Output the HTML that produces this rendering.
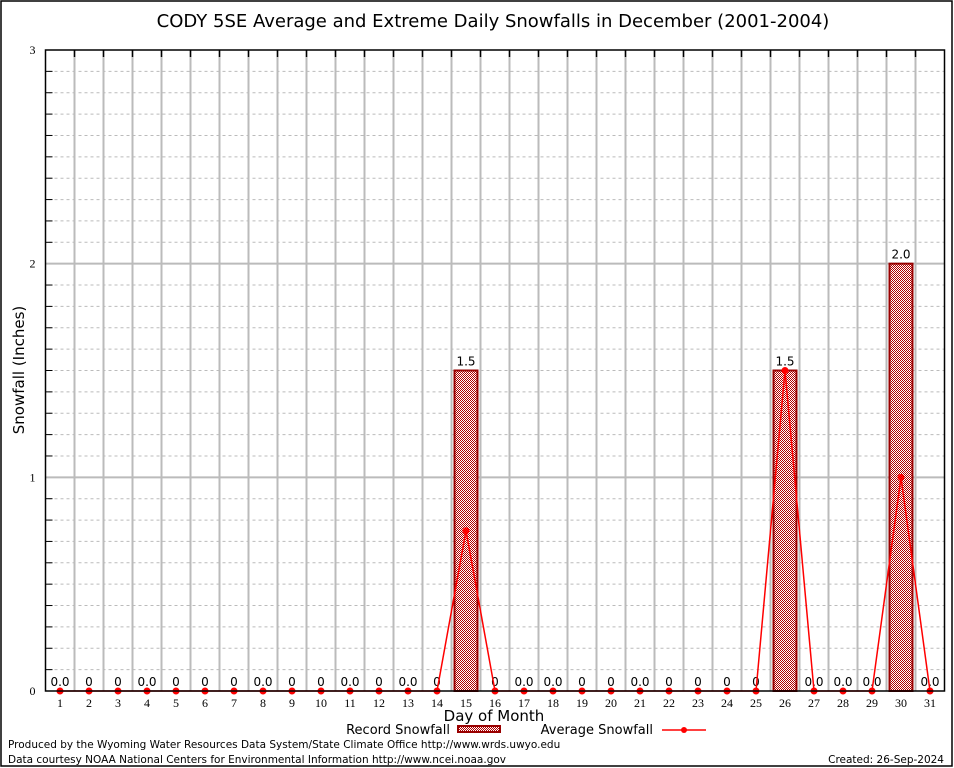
<!DOCTYPE html>
<html><head><meta charset="utf-8"><style>
body{margin:0;background:#fff;}
svg{display:block;font-family:"DejaVu Sans","Liberation Sans",sans-serif;}
</style></head><body>
<svg width="954" height="768">
<defs><pattern id="hatch" width="2" height="2" patternUnits="userSpaceOnUse"><rect width="2" height="2" fill="#fff"/><rect width="1" height="1" fill="#b00000"/><rect x="1" y="1" width="1" height="1" fill="#b00000"/></pattern></defs>
<rect x="1" y="1" width="951" height="765" fill="#fff" stroke="#000" stroke-width="1.5"/>
<text x="493" y="27" font-size="18" text-anchor="middle">CODY 5SE Average and Extreme Daily Snowfalls in December (2001-2004)</text>
<g id="grid"></g>
<g id="bars"></g>
<g id="line"></g>
<g id="axes"></g>
<text x="24" y="370" font-size="15" text-anchor="middle" transform="rotate(-90 24 370)">Snowfall (Inches)</text>
<text x="494" y="721" font-size="15" text-anchor="middle">Day of Month</text>
<g>
<text x="450" y="734" font-size="13" text-anchor="end">Record Snowfall</text>
<rect x="458" y="726" width="42" height="6" fill="url(#hatch)" stroke="#990000" stroke-width="2"/>
<text x="653" y="734" font-size="13" text-anchor="end">Average Snowfall</text>
<line x1="662" y1="730" x2="706" y2="730" stroke="#f00" stroke-width="1.5"/>
<circle cx="684" cy="730" r="3" fill="#f00"/>
</g>
<text x="8" y="748" font-size="10.5">Produced by the Wyoming Water Resources Data System/State Climate Office http://www.wrds.uwyo.edu</text>
<text x="8" y="763" font-size="10.5">Data courtesy NOAA National Centers for Environmental Information http://www.ncei.noaa.gov</text>
<text x="944" y="763" font-size="10.5" text-anchor="end">Created: 26-Sep-2024</text>
</svg>
<script>
const days=[1,2,3,4,5,6,7,8,9,10,11,12,13,14,15,16,17,18,19,20,21,22,23,24,25,26,27,28,29,30,31];
const recordVals=[0,0,0,0,0,0,0,0,0,0,0,0,0,0,1.5,0,0,0,0,0,0,0,0,0,0,1.5,0,0,0,2.0,0];
const recordLabels=["0.0","0","0","0.0","0","0","0","0.0","0","0","0.0","0","0.0","0","1.5","0","0.0","0.0","0","0","0.0","0","0","0","0","1.5","0.0","0.0","0.0","2.0","0.0"];
const avgVals=[0,0,0,0,0,0,0,0,0,0,0,0,0,0,0.75,0,0,0,0,0,0,0,0,0,0,1.5,0,0,0,1.0,0];
const yTicks=[0,1,2,3];
const NS="http://www.w3.org/2000/svg";
const L=45.5,R=944.5,T=50,B=691,yMax=3;
const x=d=>L+(d-0.5)*(R-L)/31;
const y=v=>B-v*(B-T)/yMax;
function mk(tag,attrs,parent,txt){const e=document.createElementNS(NS,tag);for(const k in attrs)e.setAttribute(k,attrs[k]);if(txt!==undefined)e.textContent=txt;document.getElementById(parent).appendChild(e);return e;}
for(let i=1;i<30;i++){if(i%10===0)continue;const v=i/10;
const g=mk('line',{x1:L+3,x2:R,y1:y(v),y2:y(v),stroke:'#bbb','stroke-dasharray':'3,3'},'grid');


const t=mk('line',{x1:L,x2:L+7,y1:y(v),y2:y(v),stroke:'#000'},'axes');

}
yTicks.forEach(v=>{
if(v>0&&v<yMax){const g=mk('line',{x1:L,x2:R,y1:y(v),y2:y(v),stroke:'#bbb','stroke-width':2},'grid');

}
const t=mk('text',{x:L-10,y:y(v)+4,'font-size':12,'text-anchor':'end','font-family':'Liberation Serif, serif'},'axes',String(v));


});
for(let i=1;i<31;i++){const xv=x(i+0.5);
const g=mk('line',{x1:xv,x2:xv,y1:T,y2:B,stroke:'#bbb','stroke-width':2},'grid');


const t=mk('line',{x1:xv,x2:xv,y1:T,y2:T+7,stroke:'#000','stroke-width':1.5},'axes');

}
days.forEach((d,i)=>{
const v=recordVals[i];
if(v>0){const b=mk('rect',{x:x(d)-11.5,y:y(v),width:23,height:B-y(v),fill:'url(#hatch)',stroke:'#990000','stroke-width':2},'bars');

}
const lb=mk('text',{x:x(d),y:y(v)-5,'font-size':12,'text-anchor':'middle'},'bars',recordLabels[i]);


const tl=mk('text',{x:x(d),y:B+16,'font-size':12,'text-anchor':'middle','font-family':'Liberation Serif, serif'},'axes',String(d));


});
const pl=mk('polyline',{points:days.map((d,i)=>x(d)+','+y(avgVals[i])).join(' '),fill:'none',stroke:'#f00','stroke-width':1.5},'line');


days.forEach((d,i)=>{const c=mk('circle',{cx:x(d),cy:y(avgVals[i]),r:3.5,fill:'#f00'},'line');

});
const ax=mk('rect',{x:L,y:T,width:R-L,height:B-T,fill:'none',stroke:'#000','stroke-width':1.5},'axes');


</script>
</body></html>
